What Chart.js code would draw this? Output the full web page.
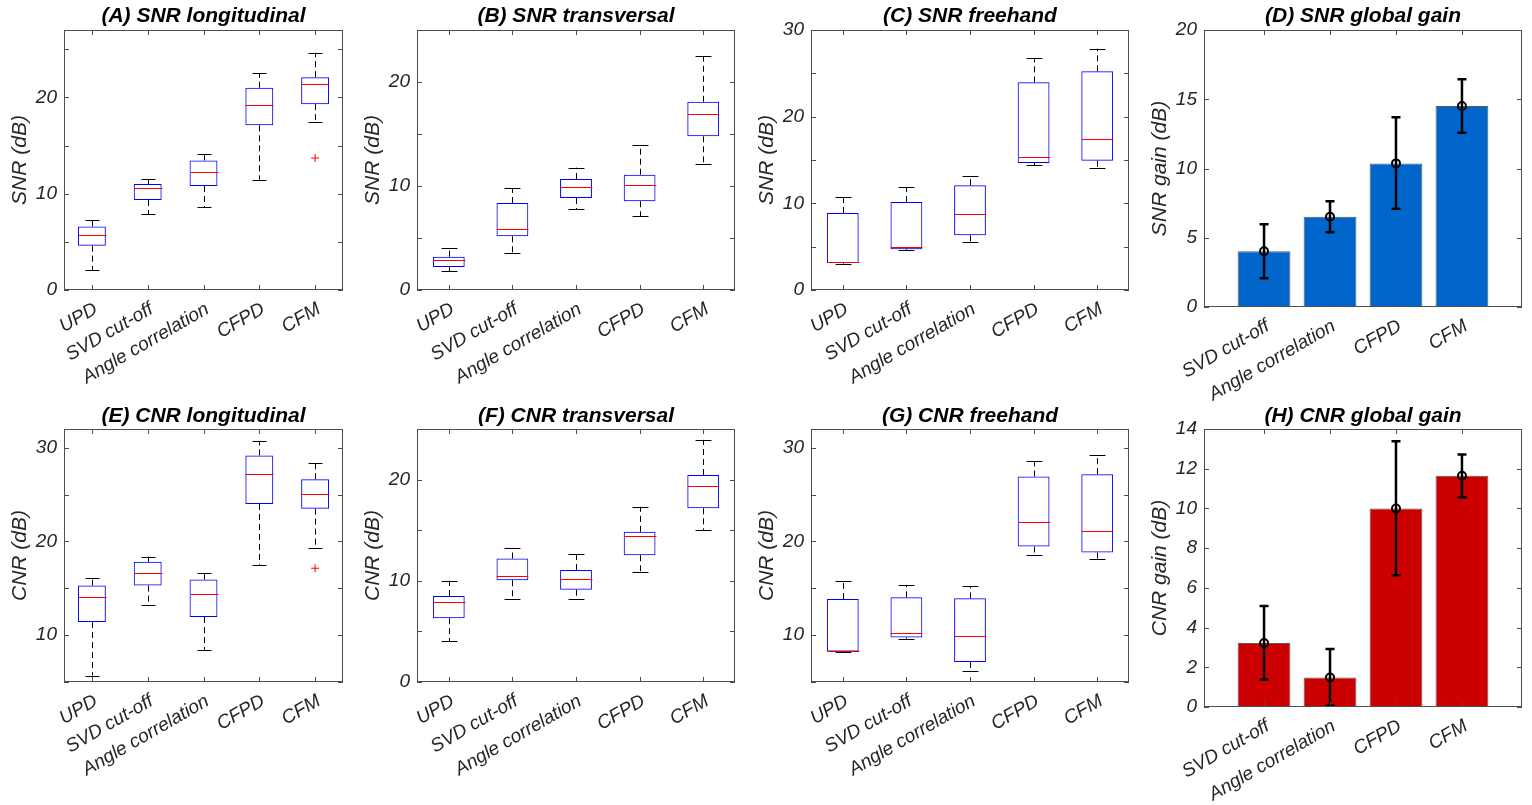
<!DOCTYPE html>
<html>
<head>
<meta charset="utf-8">
<script src="https://cdn.jsdelivr.net/npm/chart.js@4.4.0/dist/chart.umd.min.js"></script>
<style>
html, body { margin: 0; padding: 0; background: #fff; }
#lienzo { position: relative; width: 1532px; height: 805px; overflow: hidden; }
#lienzo canvas { position: absolute; }
</style>
</head>
<body>
<div id="lienzo"></div>
<script>
var metodos = ['UPD', 'SVD cut-off', 'Angle correlation', 'CFPD', 'CFM'];
var metodosGanancia = ['SVD cut-off', 'Angle correlation', 'CFPD', 'CFM'];

// cada caja: [bigote inferior, q1, mediana, q3, bigote superior]
var snrLongitudinal = [[2.05, 4.6, 5.7, 6.6, 7.3], [7.9, 9.35, 10.6, 11.0, 11.5], [8.6, 10.8, 12.25, 13.45, 14.15], [11.45, 17.1, 19.2, 21.0, 22.5], [17.4, 19.3, 21.4, 22.1, 24.65]];
var snrLongitudinalAtipicos = [null, null, null, null, 13.7];
var snrTransversal = [[1.8, 2.2, 2.9, 3.2, 4.0], [3.6, 5.16, 5.9, 8.37, 9.8], [7.76, 8.85, 9.93, 10.67, 11.76], [7.09, 8.53, 10.13, 11.09, 13.97], [12.1, 14.78, 16.92, 18.1, 22.5]];
var snrFreehand = [[3.05, 3.12, 3.23, 8.88, 10.77], [4.58, 4.69, 4.96, 10.15, 11.85], [5.5, 6.31, 8.73, 12.08, 13.19], [14.42, 14.65, 15.35, 23.96, 26.8], [14.08, 14.92, 17.38, 25.23, 27.85]];
var snrGanancia = [4.02, 6.52, 10.37, 14.51];
var snrGananciaBajo = [2.07, 5.39, 7.1, 12.59];
var snrGananciaAlto = [5.97, 7.63, 13.7, 16.44];

var cnrLongitudinal = [[5.68, 11.39, 14.07, 15.29, 16.14], [13.25, 15.29, 16.68, 17.82, 18.39], [8.39, 11.93, 14.43, 15.93, 16.61], [17.5, 24.0, 27.25, 29.18, 30.68], [19.29, 23.5, 25.07, 26.64, 28.39]];
var cnrLongitudinalAtipicos = [null, null, null, null, 17.14];
var cnrTransversal = [[4.03, 6.31, 7.93, 8.5, 10.02], [8.17, 10.05, 10.48, 12.2, 13.26], [8.17, 9.12, 10.15, 11.07, 12.6], [10.91, 12.53, 14.41, 14.84, 17.32], [15.01, 17.16, 19.37, 20.46, 23.93]];
var cnrFreehand = [[8.2, 8.25, 8.28, 13.86, 15.75], [9.61, 9.75, 10.18, 14.04, 15.36], [6.21, 7.14, 9.89, 13.93, 15.25], [18.57, 19.46, 22.11, 26.93, 28.54], [18.11, 18.82, 21.07, 27.18, 29.18]];
var cnrGanancia = [3.22, 1.49, 10.0, 11.65];
var cnrGananciaBajo = [1.39, 0.08, 6.63, 10.56];
var cnrGananciaAlto = [5.09, 2.92, 13.38, 12.72];

var fuente = "'Liberation Sans', Arial, sans-serif";
var gris = '#262626';

// marco con marcas hacia dentro en los cuatro lados
function marco(chart) {
    let ctx = chart.ctx;
    let a = chart.chartArea;
    let x = chart.scales.x, y = chart.scales.y;
    ctx.save();
    ctx.strokeStyle = '#4d4d4d';
    ctx.lineWidth = 1;
    ctx.setLineDash([]);
    ctx.strokeRect(Math.round(a.left) + 0.5, Math.round(a.top) + 0.5, Math.round(a.right - a.left) - 1, Math.round(a.bottom - a.top) - 1);
    ctx.beginPath();
    y.ticks.forEach(t => {
        let py = Math.round(y.getPixelForValue(t.value)) + 0.5;
        ctx.moveTo(a.left, py); ctx.lineTo(a.left + 5, py);
        ctx.moveTo(a.right, py); ctx.lineTo(a.right - 5, py);
    });
    x.ticks.forEach((t, i) => {
        let px = Math.round(x.getPixelForTick(i)) + 0.5;
        ctx.moveTo(px, a.bottom); ctx.lineTo(px, a.bottom - 5);
        ctx.moveTo(px, a.top); ctx.lineTo(px, a.top + 5);
    });
    ctx.stroke();
    ctx.restore();
}

function pluginCajas(cajas) {
    return {
        id: 'cajas',
        afterDatasetsDraw(chart) {
            let ctx = chart.ctx;
            let x = chart.scales.x, y = chart.scales.y;
            let paso = x.getPixelForValue(1) - x.getPixelForValue(0);
            ctx.save();
            ctx.lineWidth = 1;
            cajas.forEach((c, i) => {
                let cx = Math.round(x.getPixelForValue(i)) + 0.5;
                let yb = y.getPixelForValue(c[0]), y1 = y.getPixelForValue(c[1]);
                let ym = Math.round(y.getPixelForValue(c[2])) + 0.5;
                let y3 = y.getPixelForValue(c[3]), ya = y.getPixelForValue(c[4]);
                ctx.strokeStyle = '#000';
                ctx.setLineDash([6, 4]);
                ctx.beginPath();
                ctx.moveTo(cx, y3); ctx.lineTo(cx, ya);
                ctx.moveTo(cx, y1); ctx.lineTo(cx, yb);
                ctx.stroke();
                ctx.setLineDash([]);
                let tope = paso * 0.125;
                ctx.beginPath();
                ctx.moveTo(cx - tope, Math.round(ya) + 0.5); ctx.lineTo(cx + tope, Math.round(ya) + 0.5);
                ctx.moveTo(cx - tope, Math.round(yb) + 0.5); ctx.lineTo(cx + tope, Math.round(yb) + 0.5);
                ctx.stroke();
                ctx.strokeStyle = '#ff0000';
                ctx.beginPath();
                ctx.moveTo(cx - paso * 0.25, ym); ctx.lineTo(cx + paso * 0.25, ym);
                ctx.stroke();
            });
            ctx.restore();
        },
        afterDraw(chart) { marco(chart); }
    };
}

function pluginErrores(bajo, alto) {
    return {
        id: 'errores',
        afterDatasetsDraw(chart) {
            let ctx = chart.ctx;
            let x = chart.scales.x, y = chart.scales.y;
            ctx.save();
            ctx.strokeStyle = '#000';
            ctx.lineWidth = 2.5;
            bajo.forEach((b, i) => {
                let cx = x.getPixelForValue(i + 1);
                let y1 = y.getPixelForValue(b), y2 = y.getPixelForValue(alto[i]);
                ctx.beginPath();
                ctx.moveTo(cx, y1); ctx.lineTo(cx, y2);
                ctx.moveTo(cx - 4.5, y1); ctx.lineTo(cx + 4.5, y1);
                ctx.moveTo(cx - 4.5, y2); ctx.lineTo(cx + 4.5, y2);
                ctx.stroke();
            });
            ctx.restore();
        },
        afterDraw(chart) { marco(chart); }
    };
}

function crearLienzo(area, altoTitulo) {
    let c = document.createElement('canvas');
    let ancho = area[2] - area[0] + 66;
    let alto = altoTitulo + (area[3] - area[1]) + 98;
    c.width = ancho; c.height = alto;
    c.style.width = ancho + 'px'; c.style.height = alto + 'px';
    c.style.left = (area[0] - 60) + 'px';
    c.style.top = (area[1] - altoTitulo) + 'px';
    document.getElementById('lienzo').appendChild(c);
    return c;
}

function opciones(titulo, etiquetaY, yMin, yMax, pasoY, soloDecenas, padTitulo) {
    return {
        responsive: false,
        animation: false,
        layout: { padding: { right: 6 } },
        plugins: {
            legend: { display: false },
            tooltip: { enabled: false },
            title: {
                display: true, text: titulo, fullSize: false, color: '#000',
                font: { family: fuente, size: 21, weight: 'bold', style: 'italic', lineHeight: 1.15 },
                padding: { top: 4, bottom: padTitulo }
            }
        },
        scales: {
            x: {
                grid: { display: false, drawTicks: false },
                border: { display: false },
                ticks: { autoSkip: false, minRotation: 30, maxRotation: 30, padding: 8, labelOffset: 4, color: gris, font: { family: fuente, size: 19, style: 'italic' } },
                afterFit: s => { s.height = 98; }
            },
            y: {
                min: yMin, max: yMax,
                grid: { display: false, drawTicks: false },
                border: { display: false },
                ticks: {
                    stepSize: pasoY, includeBounds: false, padding: 7, color: gris,
                    font: { family: fuente, size: 19, style: 'italic' },
                    callback: v => (!soloDecenas || v % 10 === 0) ? v : ''
                },
                title: { display: true, text: etiquetaY, color: gris, font: { family: fuente, size: 21, style: 'italic', lineHeight: 1.15 }, padding: { top: 4, bottom: 0 } },
                afterFit: s => { s.width = 60; }
            }
        }
    };
}

function graficaCajas(area, altoTitulo, titulo, etiquetaY, cajas, atipicos, yMin, yMax) {
    let lienzo = crearLienzo(area, altoTitulo);
    new Chart(lienzo, {
        type: 'bar',
        data: {
            labels: metodos,
            datasets: [{
                type: 'line',
                data: atipicos || metodos.map(() => null),
                showLine: false,
                pointStyle: 'cross',
                pointRadius: 4,
                pointHoverRadius: 4,
                borderColor: '#ff0000',
                borderWidth: 1
            }, {
                data: cajas.map(c => [c[1], c[3]]),
                backgroundColor: 'rgba(0,0,0,0)',
                borderColor: '#0000ff',
                borderWidth: 1,
                borderSkipped: false,
                barPercentage: 0.5,
                categoryPercentage: 1
            }]
        },
        options: opciones(titulo, etiquetaY, yMin, yMax, 5, true, altoTitulo - 28.15),
        plugins: [pluginCajas(cajas)]
    });
}

function graficaGanancia(area, altoTitulo, titulo, etiquetaY, valores, bajo, alto, color, yMax, pasoY) {
    let lienzo = crearLienzo(area, altoTitulo);
    let ops = opciones(titulo, etiquetaY, 0, yMax, pasoY, false, altoTitulo - 28.15);
    ops.scales.x.type = 'linear';
    ops.scales.x.offset = false;
    ops.scales.x.min = 0.09;
    ops.scales.x.max = 4.91;
    ops.scales.x.afterBuildTicks = s => { s.ticks = [1, 2, 3, 4].map(v => ({ value: v })); };
    ops.scales.x.ticks.callback = v => metodosGanancia[v - 1];
    new Chart(lienzo, {
        type: 'bar',
        data: {
            datasets: [{
                type: 'line',
                data: valores.map((v, i) => ({ x: i + 1, y: v })),
                showLine: false,
                pointStyle: 'circle',
                pointRadius: 4,
                pointHoverRadius: 4,
                borderColor: '#000',
                backgroundColor: 'rgba(0,0,0,0)',
                borderWidth: 2
            }, {
                data: valores.map((v, i) => ({ x: i + 1, y: v })),
                backgroundColor: color,
                borderColor: '#5a5a5a',
                borderWidth: 1,
                borderSkipped: false,
                barPercentage: 0.8,
                categoryPercentage: 1
            }]
        },
        options: ops,
        plugins: [pluginErrores(bajo, alto)]
    });
}

// areas de dibujo: [izquierda, arriba, derecha, abajo]
graficaCajas([64, 30, 343, 290], 30, '(A) SNR longitudinal', 'SNR (dB)', snrLongitudinal, snrLongitudinalAtipicos, 0, 27);
graficaCajas([417, 30, 735, 290], 30, '(B) SNR transversal', 'SNR (dB)', snrTransversal, null, 0, 25);
graficaCajas([811, 30, 1129, 290], 30, '(C) SNR freehand', 'SNR (dB)', snrFreehand, null, 0, 30);
graficaGanancia([1204, 30, 1522, 307], 30, '(D) SNR global gain', 'SNR gain (dB)', snrGanancia, snrGananciaBajo, snrGananciaAlto, '#0066cc', 20, 5);

graficaCajas([64, 429, 343, 682], 29, '(E) CNR longitudinal', 'CNR (dB)', cnrLongitudinal, cnrLongitudinalAtipicos, 5, 32);
graficaCajas([417, 429, 735, 682], 29, '(F) CNR transversal', 'CNR (dB)', cnrTransversal, null, 0, 25);
graficaCajas([811, 429, 1129, 682], 29, '(G) CNR freehand', 'CNR (dB)', cnrFreehand, null, 5, 32);
graficaGanancia([1204, 429, 1522, 707], 29, '(H) CNR global gain', 'CNR gain (dB)', cnrGanancia, cnrGananciaBajo, cnrGananciaAlto, '#cc0000', 14, 2);
</script>
</body>
</html>
